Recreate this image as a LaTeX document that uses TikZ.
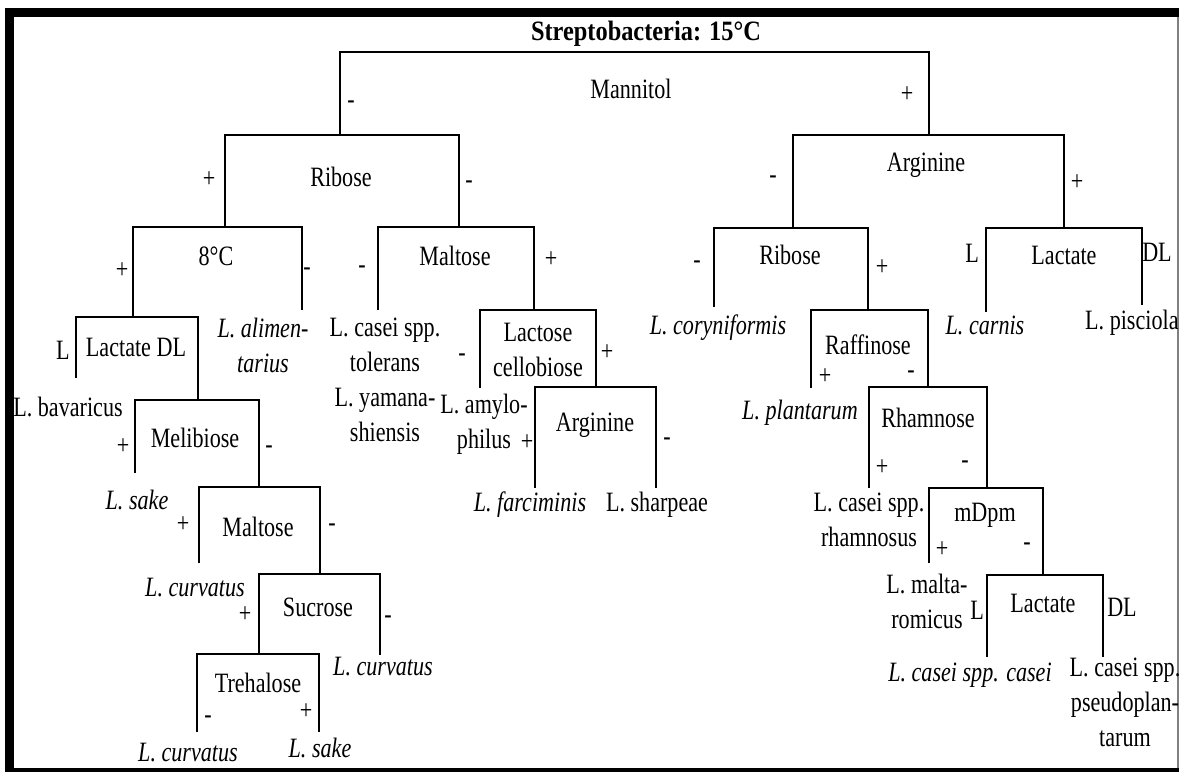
\documentclass[tikz,border=0pt]{standalone}
\usepackage{fontspec}
\setmainfont{Liberation Serif}[FakeStretch=0.79]
\newfontfamily\titlefont{Liberation Serif}[FakeStretch=0.87]

% one test: horizontal bar with a leg down at each end
\newcommand\splitbar[6]{%
  \coordinate (#1-l) at (#3,#2);
  \coordinate (#1-r) at (#4,#2);
  \coordinate (#1-le) at (#3,#5);
  \coordinate (#1-re) at (#4,#6);
  \draw[bar] (#1-le) -- (#1-l) -- (#1-r) -- (#1-re);}

\begin{document}
\begin{tikzpicture}[x=1pt,y=-1pt,
  bar/.style={line width=2.4pt, line join=miter},
  lbl/.style={inner sep=0pt, align=center, font=\fontsize{28}{35}\selectfont},
  sp/.style={lbl, font=\fontsize{28}{35}\selectfont\itshape},
  sgn/.style={lbl}]
\useasboundingbox (0,0) rectangle (1179,772);

% frame
\fill (5,8) rectangle (1179,17);
\fill (5,8) rectangle (14,772);
\fill (5,768) rectangle (1179,772);
\draw[gray, line width=1.5pt] (1178,17) -- (1178,768);

% title
\node[inner sep=0pt, anchor=base, font=\fontsize{28}{30}\selectfont\titlefont\bfseries] (title) at (646,40) {Streptobacteria: 15°C};

% decision bars: name, y, left x, right x, left leg end, right leg end
\splitbar{root}{52}{340}{929}{135}{135}
\splitbar{rib}{135}{225}{459}{227}{227}
\splitbar{arg}{135}{793}{1064}{228}{228}
\splitbar{eight}{227}{133}{302}{317}{310}
\splitbar{maltu}{227}{378}{534}{310}{310}
\splitbar{ribr}{228}{714}{868}{307}{310}
\splitbar{lacu}{228}{986}{1142}{312}{305}
\splitbar{lacdl}{317}{76}{198}{378}{400}
\splitbar{meli}{400}{135}{259}{473}{487}
\splitbar{maltl}{487}{199}{320}{563}{574}
\splitbar{sucr}{574}{259}{380}{654}{655}
\splitbar{treh}{654}{197}{319}{732}{732}
\splitbar{lact}{310}{480}{596}{388}{387}
\splitbar{argi}{387}{535}{656}{488}{488}
\splitbar{raff}{310}{811}{928}{388}{387}
\splitbar{rham}{387}{869}{987}{488}{488}
\splitbar{mdpm}{488}{929}{1043}{563}{575}
\splitbar{lacl}{575}{987}{1103}{657}{657}

% tests
\node[lbl] (tMannitol) at (631,89) {Mannitol};
\node[lbl] (tRibose) at (341,177) {Ribose};
\node[lbl] (tArginine) at (926,165) {Arginine};
\node[lbl] (tEight) at (216,256) {8°C};
\node[lbl] (tMaltoseU) at (455,256) {Maltose};
\node[lbl] (tRiboseR) at (790,255) {Ribose};
\node[lbl] (tLactateU) at (1064,255) {Lactate};
\node[lbl] (tLactateDL) at (136,347) {Lactate DL};
\node[lbl] (tLactose) at (538,350) {Lactose\\cellobiose};
\node[lbl] (tArgInner) at (595,425) {Arginine};
\node[lbl] (tMelibiose) at (195,438) {Melibiose};
\node[lbl] (tMaltoseL) at (258,527) {Maltose};
\node[lbl] (tSucrose) at (318,607) {Sucrose};
\node[lbl] (tTrehalose) at (258,683) {Trehalose};
\node[lbl] (tRaffinose) at (868,345) {Raffinose};
\node[lbl] (tRhamnose) at (928,418) {Rhamnose};
\node[lbl] (tMdpm) at (985,515) {mDpm};
\node[lbl] (tLactateL) at (1043,603) {Lactate};

% branch signs
\node[sgn] (s1) at (351,105) {-};
\node[sgn] (s2) at (907,95) {+};
\node[sgn] (s3) at (209,180) {+};
\node[sgn] (s4) at (469,185) {-};
\node[sgn] (s5) at (773,180) {-};
\node[sgn] (s6) at (1077,183) {+};
\node[sgn] (s7) at (122,271) {+};
\node[sgn] (s8) at (307,272) {-};
\node[sgn] (s9) at (362,270) {-};
\node[sgn] (s10) at (551,260) {+};
\node[sgn] (s11) at (697,265) {-};
\node[sgn] (s12) at (882,268) {+};
\node[sgn] (s13) at (972,253) {L};
\node[sgn] (s14) at (1157,252) {DL};
\node[sgn] (s15) at (63,350) {L};
\node[sgn] (s16) at (462,358) {-};
\node[sgn] (s17) at (607,353) {+};
\node[sgn] (s18) at (527,443) {+};
\node[sgn] (s19) at (667,442) {-};
\node[sgn] (s20) at (123,447) {+};
\node[sgn] (s21) at (269,450) {-};
\node[sgn] (s22) at (183,525) {+};
\node[sgn] (s23) at (332,528) {-};
\node[sgn] (s24) at (245,615) {+};
\node[sgn] (s25) at (388,620) {-};
\node[sgn] (s26) at (208,720) {-};
\node[sgn] (s27) at (306,712) {+};
\node[sgn] (s28) at (825,377) {+};
\node[sgn] (s29) at (911,375) {-};
\node[sgn] (s30) at (882,468) {+};
\node[sgn] (s31) at (965,465) {-};
\node[sgn] (s32) at (942,550) {+};
\node[sgn] (s33) at (1027,547) {-};
\node[sgn] (s34) at (977,610) {L};
\node[sgn] (s35) at (1122,607) {DL};

% species
\node[sp] (alim) at (263,345) {L. alimen-\\tarius};
\node[lbl] (tolerans) at (385,380) {L. casei spp.\\tolerans\\L. yamana-\\shiensis};
\node[lbl] (bavar) at (68,407) {L. bavaricus};
\node[lbl] (amylo) at (484,424) {L. amylo-\\philus};
\node[sp] (sake1) at (137,500) {L. sake};
\node[sp] (farc) at (530,505) {L. farciminis};
\node[lbl] (sharp) at (657,505) {L. sharpeae};
\node[sp] (curv1) at (195,588) {L. curvatus};
\node[sp] (curv2) at (383,667) {L. curvatus};
\node[sp] (curv3) at (188,753) {L. curvatus};
\node[sp] (sake2) at (320,748) {L. sake};
\node[sp] (coryn) at (718,328) {L. coryniformis};
\node[sp] (carnis) at (985,325) {L. carnis};
\node[lbl, anchor=west] (pisc) at (1085,323) {L. pisciola};
\node[sp] (plant) at (800,413) {L. plantarum};
\node[lbl] (rhamn) at (869,520) {L. casei spp.\\rhamnosus};
\node[lbl] (malta) at (927,601) {L. malta-\\romicus};
\node[sp] (casei) at (970,675) {L. casei spp. casei};
\node[lbl] (pseudo) at (1125,702) {L. casei spp.\\pseudoplan-\\tarum};
\end{tikzpicture}
\end{document}
